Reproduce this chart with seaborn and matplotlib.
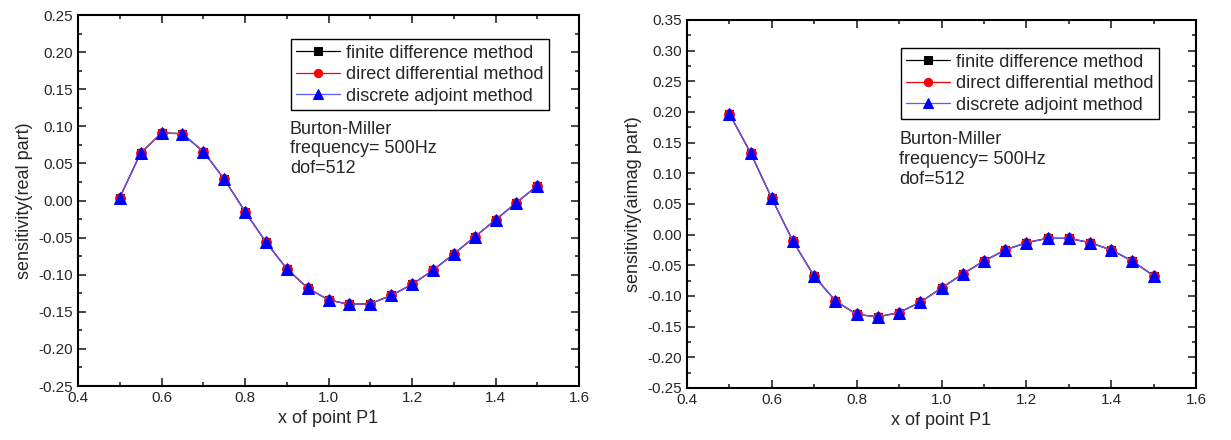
import numpy as np
import pandas as pd
import seaborn as sns
import matplotlib
matplotlib.use("Agg")
import matplotlib.pyplot as plt
from matplotlib.ticker import MultipleLocator, FormatStrFormatter

x_p1 = [0.50, 0.55, 0.60, 0.65, 0.70, 0.75, 0.80, 0.85, 0.90, 0.95, 1.00,
        1.05, 1.10, 1.15, 1.20, 1.25, 1.30, 1.35, 1.40, 1.45, 1.50]

real_fd = [0.004, 0.064, 0.091, 0.090, 0.066, 0.029, -0.015, -0.056, -0.092, -0.118, -0.134,
           -0.140, -0.139, -0.128, -0.113, -0.094, -0.072, -0.049, -0.026, -0.003, 0.020]
real_dd = [0.004, 0.064, 0.091, 0.090, 0.066, 0.029, -0.015, -0.056, -0.092, -0.118, -0.134,
           -0.140, -0.139, -0.128, -0.113, -0.094, -0.072, -0.049, -0.026, -0.003, 0.020]
real_da = [0.004, 0.064, 0.091, 0.090, 0.066, 0.029, -0.015, -0.056, -0.092, -0.118, -0.134,
           -0.140, -0.139, -0.128, -0.113, -0.094, -0.072, -0.049, -0.026, -0.003, 0.020]

imag_fd = [0.197, 0.133, 0.059, -0.011, -0.068, -0.108, -0.130, -0.134, -0.127, -0.110, -0.087,
           -0.064, -0.043, -0.025, -0.013, -0.006, -0.006, -0.013, -0.025, -0.043, -0.067]
imag_dd = [0.197, 0.133, 0.059, -0.011, -0.068, -0.108, -0.130, -0.134, -0.127, -0.110, -0.087,
           -0.064, -0.043, -0.025, -0.013, -0.006, -0.006, -0.013, -0.025, -0.043, -0.067]
imag_da = [0.197, 0.133, 0.059, -0.011, -0.068, -0.108, -0.130, -0.134, -0.127, -0.110, -0.087,
           -0.064, -0.043, -0.025, -0.013, -0.006, -0.006, -0.013, -0.025, -0.043, -0.067]

series_names = ["finite difference method", "direct differential method", "discrete adjoint method"]
x_label = "x of point P1"
y_labels = ["sensitivity(real part)", "sensitivity(aimag part)"]
note = "Burton-Miller\nfrequency= 500Hz\ndof=512"

sns.set_theme(style="ticks")
plt.rcParams['font.family'] = ['Liberation Sans', 'DejaVu Sans']

fig = plt.figure(figsize=(12.31, 4.40), dpi=100)
ax1 = fig.add_axes([0.0634, 0.1227, 0.4070, 0.8432])
ax2 = fig.add_axes([0.5581, 0.1182, 0.4135, 0.8364])

styles = [dict(color="black", marker="s", ms=6),
          dict(color="red", marker="o", ms=7),
          dict(color="blue", marker="^", ms=8)]

panels = [
    (ax1, [real_fd, real_dd, real_da], (-0.25, 0.25), y_labels[0], (0.425, 0.935), (0.423, 0.715)),
    (ax2, [imag_fd, imag_dd, imag_da], (-0.25, 0.35), y_labels[1], (0.42, 0.923), (0.417, 0.697)),
]

for ax, ys, ylim, ylab, legpos, notepos in panels:
    for name, yv, st in zip(series_names, ys, styles):
        df = pd.DataFrame({"x": x_p1, "y": yv})
        sns.lineplot(data=df, x="x", y="y", ax=ax, label=name, color=st["color"],
                     marker=st["marker"], markersize=st["ms"], markeredgecolor=st["color"],
                     linewidth=0.9, alpha=1.0)
    ax.lines[-1].set_color("#5a5aff")
    ax.lines[-1].set_markerfacecolor("blue")
    ax.lines[-1].set_markeredgecolor("blue")
    ax.set_xlim(0.4, 1.6)
    ax.set_ylim(*ylim)
    ax.xaxis.set_major_locator(MultipleLocator(0.2))
    ax.xaxis.set_minor_locator(MultipleLocator(0.1))
    ax.yaxis.set_major_locator(MultipleLocator(0.05))
    ax.yaxis.set_minor_locator(MultipleLocator(0.025))
    ax.xaxis.set_major_formatter(FormatStrFormatter("%.1f"))
    ax.yaxis.set_major_formatter(FormatStrFormatter("%.2f"))
    ax.tick_params(which="both", direction="in", top=True, right=True, labelsize=11, width=1.2)
    ax.tick_params(which="major", length=6)
    ax.tick_params(which="minor", length=3)
    for sp in ax.spines.values():
        sp.set_visible(True)
        sp.set_linewidth(1.5)
        sp.set_color("black")
    ax.set_xlabel(x_label, fontsize=13)
    ax.set_ylabel(ylab, fontsize=13)
    leg = ax.legend(loc="upper left", bbox_to_anchor=legpos, fontsize=13, frameon=True,
                    fancybox=False, edgecolor="black", framealpha=1, borderpad=0.3,
                    labelspacing=0.25, handlelength=2.4, handletextpad=0.35, borderaxespad=0,
                    markerscale=0.85)
    leg.get_frame().set_linewidth(1.0)
    ax.text(notepos[0], notepos[1], note, transform=ax.transAxes, fontsize=13,
            va="top", ha="left", linespacing=1.2)

fig.savefig("out.png", dpi=100)
